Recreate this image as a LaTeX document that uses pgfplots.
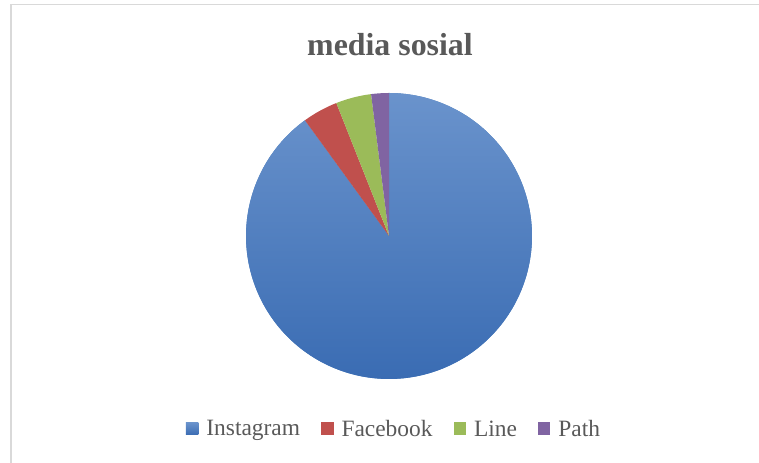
\documentclass[border=0pt]{standalone}
\usepackage{pgfplots}
\pgfplotsset{compat=1.18}
\usepackage{fontspec}
\setmainfont{Liberation Serif}
\definecolor{txt}{HTML}{595959}
\definecolor{cInsta}{HTML}{4F81BD}
\definecolor{cInstaTop}{HTML}{6A93CC}
\definecolor{cInstaBot}{HTML}{3A6CB3}
\definecolor{cFace}{HTML}{C0504D}
\definecolor{cLine}{HTML}{9BBB59}
\definecolor{cPath}{HTML}{8064A2}
\definecolor{frame}{HTML}{D9D9D9}
\begin{document}
\begin{tikzpicture}
\begin{axis}[
  scale only axis, width=759bp, height=463bp,
  xmin=0, xmax=759, ymin=0, ymax=463,
  hide axis, clip=false,
  legend columns=4,
  legend style={at={(axis cs:393,34)}, anchor=center, draw=none, fill=none,
    font=\fontsize{23.5}{26}\selectfont\color{txt},
    nodes={inner sep=0pt},
    /tikz/every odd column/.append style={column sep=8bp},
    /tikz/every even column/.append style={column sep=21bp}},
  legend image code/.code={\fill[#1] (0bp,-6bp) rectangle (12.5bp,6.5bp);},
]
% cumulative percentages (clockwise from 12 o'clock): Instagram 90, Facebook 4, Line 4, Path 2
\addplot[draw=none, fill=cInsta, top color=cInstaTop, bottom color=cInstaBot, domain=0:90, samples=200]
  ({389+143*sin(3.6*x)},{227+143*cos(3.6*x)}) -- (axis cs:389,227) -- cycle;
\addlegendentry{Instagram}
\addplot[draw=none, fill=cFace, domain=90:94, samples=20]
  ({389+143*sin(3.6*x)},{227+143*cos(3.6*x)}) -- (axis cs:389,227) -- cycle;
\addlegendentry{Facebook}
\addplot[draw=none, fill=cLine, domain=94:98, samples=20]
  ({389+143*sin(3.6*x)},{227+143*cos(3.6*x)}) -- (axis cs:389,227) -- cycle;
\addlegendentry{Line}
\addplot[draw=none, fill=cPath, domain=98:100, samples=20]
  ({389+143*sin(3.6*x)},{227+143*cos(3.6*x)}) -- (axis cs:389,227) -- cycle;
\addlegendentry{Path}
\draw[frame, line width=1.5bp] (axis cs:11,0) -- (axis cs:11,458.5) -- (axis cs:759,458.5);
\node[anchor=base, text=txt, font=\fontsize{32}{36}\selectfont\bfseries] at (axis cs:390,407) {media sosial};
\end{axis}
\pgfresetboundingbox
\path (0,0) rectangle (759bp,463bp);
\end{tikzpicture}
\end{document}
